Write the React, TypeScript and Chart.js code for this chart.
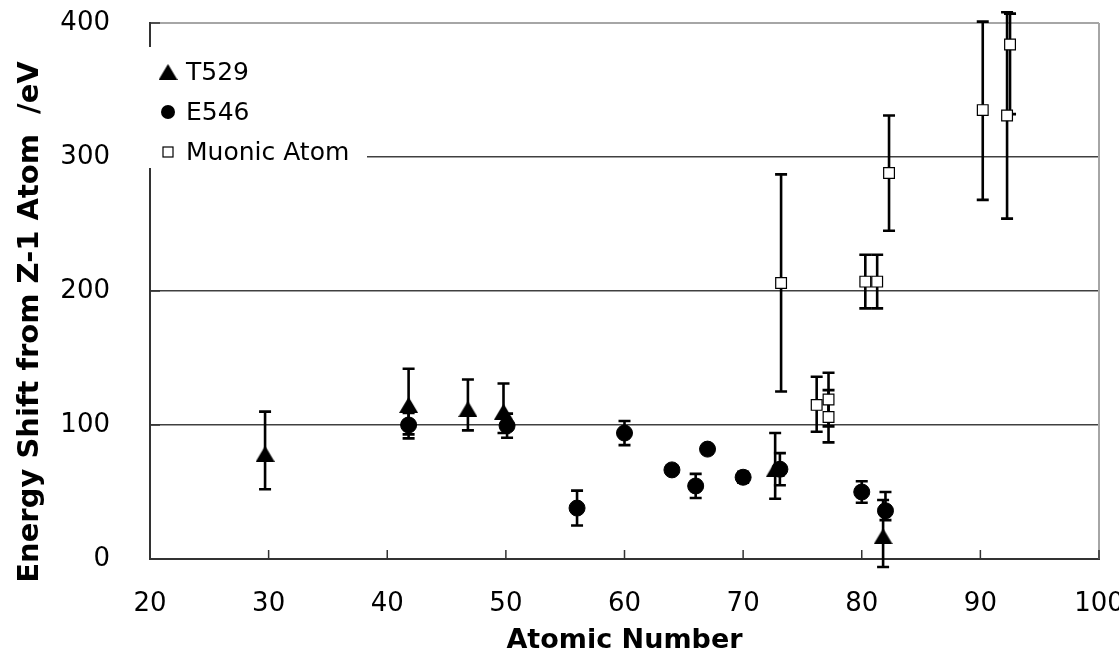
import React, { useEffect, useRef } from "react";
import { Chart, registerables } from "chart.js";

Chart.register(...registerables);

// ---- axis definitions ----
const xMin = 20;
const xMax = 100;
const xStep = 10;
const yMin = 0;
const yMax = 400;
const yStep = 100;

const xTitle = "Atomic Number";
const yTitle = "Energy Shift from Z-1 Atom  /eV";

// ---- series: T529 ----
const t529Label = "T529";
const t529X = [29.7, 41.8, 46.8, 49.8, 72.7, 81.8];
const t529Y = [78.5, 115, 112, 110, 67, 17];
const t529Plus = [31.5, 27, 22, 21, 27, 27];
const t529Minus = [26.5, 22, 16, 16, 22, 23];

// ---- series: E546 ----
const e546Label = "E546";
const e546X = [41.8, 50.1, 56.0, 60.0, 64.0, 66.0, 67.0, 70.0, 73.1, 80.0, 82.0];
const e546Y = [100, 99.5, 38, 94, 66.5, 54.5, 82, 61, 67, 50, 36];
const e546Plus = [9, 9, 13, 9, 3, 9, 3, 4, 12, 8, 14];
const e546Minus = [10, 9, 13, 9, 3, 9, 3, 4, 12, 8, 7];

// ---- series: Muonic Atom ----
const muonLabel = "Muonic Atom";
const muonX = [73.2, 76.2, 77.2, 77.2, 80.3, 81.3, 82.3, 90.2, 92.25, 92.5];
const muonY = [206, 115, 119, 106, 207, 207, 288, 335, 331, 384];
const muonPlus = [81, 21, 20, 20, 20, 20, 43, 66, 77, 23];
const muonMinus = [81, 20, 20, 19, 20, 20, 43, 67, 77, 52];

const FONT = '"DejaVu Sans", "Liberation Sans", sans-serif';

function buildPoints(xs: number[], ys: number[], plus: number[], minus: number[]) {
  return xs.map((x, i) => ({ x, y: ys[i], plus: plus[i], minus: minus[i] }));
}

function makeTriangle(w: number, h: number): HTMLCanvasElement {
  const c = document.createElement("canvas");
  c.width = w;
  c.height = h;
  const g = c.getContext("2d")!;
  g.fillStyle = "#000";
  g.beginPath();
  g.moveTo(w / 2, 0);
  g.lineTo(w, h);
  g.lineTo(0, h);
  g.closePath();
  g.fill();
  return c;
}

const errorBarPlugin = {
  id: "errorBars",
  beforeDatasetsDraw(chart: any) {
    const { ctx, scales } = chart;
    const xs = scales.x;
    const ys = scales.y;
    ctx.save();
    ctx.strokeStyle = "#000";
    ctx.lineWidth = 2.6;
    ctx.lineCap = "butt";
    chart.data.datasets.forEach((ds: any) => {
      ds.data.forEach((p: any) => {
        const px = xs.getPixelForValue(p.x);
        const top = ys.getPixelForValue(p.y + p.plus);
        const bot = ys.getPixelForValue(p.y - p.minus);
        ctx.beginPath();
        ctx.moveTo(px, top);
        ctx.lineTo(px, bot);
        ctx.moveTo(px - 6, top);
        ctx.lineTo(px + 6, top);
        ctx.moveTo(px - 6, bot);
        ctx.lineTo(px + 6, bot);
        ctx.stroke();
      });
    });
    ctx.restore();
  },
};

const framePlugin = {
  id: "frame",
  beforeDatasetsDraw(chart: any) {
    const { ctx, chartArea, scales } = chart;
    const xs = scales.x;
    const ys = scales.y;
    ctx.save();
    ctx.strokeStyle = "#a6a6a6";
    ctx.lineWidth = 2;
    ctx.beginPath();
    ctx.moveTo(chartArea.right, chartArea.top);
    ctx.lineTo(chartArea.right, chartArea.bottom);
    ctx.stroke();
    ctx.strokeStyle = "#333";
    ctx.lineWidth = 1.5;
    ctx.beginPath();
    xs.ticks.forEach((t: any) => {
      const px = xs.getPixelForValue(t.value);
      ctx.moveTo(px, chartArea.bottom);
      ctx.lineTo(px, chartArea.bottom - 9);
    });
    ys.ticks.forEach((t: any) => {
      const py = ys.getPixelForValue(t.value);
      ctx.moveTo(chartArea.left, py);
      ctx.lineTo(chartArea.left + 10, py);
    });
    ctx.stroke();
    ctx.restore();
  },
};

const legendAndTitlePlugin = {
  id: "legendBox",
  afterDraw(chart: any) {
    const { ctx, chartArea } = chart;
    ctx.save();
    const bx = chartArea.left - 2;
    const by = chartArea.top + 24;
    const bw = 219;
    const bh = 121;
    ctx.fillStyle = "#fff";
    ctx.fillRect(bx, by, bw, bh);
    const rows = chart.data.datasets;
    rows.forEach((ds: any, i: number) => {
      const cy = by + 25 + i * 40;
      const mx = bx + 20;
      if (ds.legendStyle === "triangle") {
        const img = ds.pointStyle as HTMLCanvasElement;
        ctx.drawImage(img, mx - img.width / 2, cy - img.height / 2);
      } else if (ds.legendStyle === "circle") {
        ctx.fillStyle = "#000";
        ctx.beginPath();
        ctx.arc(mx, cy, 7, 0, Math.PI * 2);
        ctx.fill();
      } else {
        ctx.fillStyle = "#fff";
        ctx.strokeStyle = "#000";
        ctx.lineWidth = 1.2;
        ctx.fillRect(mx - 5, cy - 5, 10, 10);
        ctx.strokeRect(mx - 5, cy - 5, 10, 10);
      }
      ctx.fillStyle = "#000";
      ctx.font = `25px ${FONT}`;
      ctx.textAlign = "left";
      ctx.textBaseline = "middle";
      ctx.fillText(ds.label, bx + 38, cy + 1);
    });
    // y-axis title
    ctx.translate(30, 322);
    ctx.rotate(-Math.PI / 2);
    ctx.font = `bold 29px ${FONT}`;
    ctx.fillStyle = "#000";
    ctx.textAlign = "center";
    ctx.textBaseline = "middle";
    ctx.fillText(yTitle, 0, 0);
    ctx.restore();
  },
};

export default function App() {
  const canvasRef = useRef<HTMLCanvasElement | null>(null);

  useEffect(() => {
    const canvas = canvasRef.current;
    if (!canvas) return;
    const tri = makeTriangle(19, 16);

    const chart = new Chart(canvas, {
      type: "scatter",
      data: {
        datasets: [
          {
            label: t529Label,
            data: buildPoints(t529X, t529Y, t529Plus, t529Minus),
            pointStyle: tri,
            legendStyle: "triangle",
            backgroundColor: "#000",
            borderColor: "#000",
            showLine: false,
          } as any,
          {
            label: e546Label,
            data: buildPoints(e546X, e546Y, e546Plus, e546Minus),
            pointStyle: "circle",
            legendStyle: "circle",
            pointRadius: 8,
            backgroundColor: "#000",
            borderColor: "#000",
            borderWidth: 1,
            showLine: false,
          } as any,
          {
            label: muonLabel,
            data: buildPoints(muonX, muonY, muonPlus, muonMinus),
            pointStyle: "rect",
            legendStyle: "rect",
            pointRadius: 7.6,
            backgroundColor: "#fff",
            borderColor: "#000",
            borderWidth: 1.2,
            showLine: false,
          } as any,
        ],
      },
      options: {
        animation: false,
        responsive: false,
        devicePixelRatio: 1,
        events: [],
        layout: { padding: { top: 23, right: 20, left: 0, bottom: 0 } },
        plugins: {
          legend: { display: false },
          tooltip: { enabled: false },
        },
        scales: {
          x: {
            type: "linear",
            min: xMin,
            max: xMax,
            ticks: {
              stepSize: xStep,
              color: "#000",
              font: { family: FONT, size: 26 },
              padding: 30,
              maxRotation: 0,
            },
            grid: { display: false, drawTicks: false },
            border: { display: true, color: "#333", width: 2 },
            title: {
              display: true,
              text: xTitle,
              color: "#000",
              font: { family: FONT, size: 27, weight: "bold" },
              padding: { top: 0, bottom: 2 },
            },
            afterFit: (s: any) => {
              s.height = 100;
              s.paddingLeft = 0;
              s.paddingRight = 0;
            },
          },
          y: {
            type: "linear",
            min: yMin,
            max: yMax,
            ticks: {
              stepSize: yStep,
              color: "#000",
              font: { family: FONT, size: 26 },
              padding: 40,
              crossAlign: "near",
            },
            grid: {
              drawTicks: false,
              color: (c: any) =>
                c.tick && c.tick.value === yMax
                  ? "#a6a6a6"
                  : c.tick && c.tick.value === yMin
                  ? "rgba(0,0,0,0)"
                  : "#404040",
              lineWidth: (c: any) => (c.tick && c.tick.value === yMax ? 2 : 1.5),
            },
            border: { display: true, color: "#333", width: 2 },
            afterFit: (s: any) => {
              s.width = 150;
              s.paddingTop = 0;
              s.paddingBottom = 0;
            },
          },
        },
      } as any,
      plugins: [framePlugin, errorBarPlugin, legendAndTitlePlugin],
    });

    return () => chart.destroy();
  }, []);

  return (
    <div style={{ position: "absolute", left: 0, top: 0, width: 1119, height: 659, background: "#fff" }}>
      <canvas ref={canvasRef} width={1119} height={659} style={{ display: "block" }} />
    </div>
  );
}
